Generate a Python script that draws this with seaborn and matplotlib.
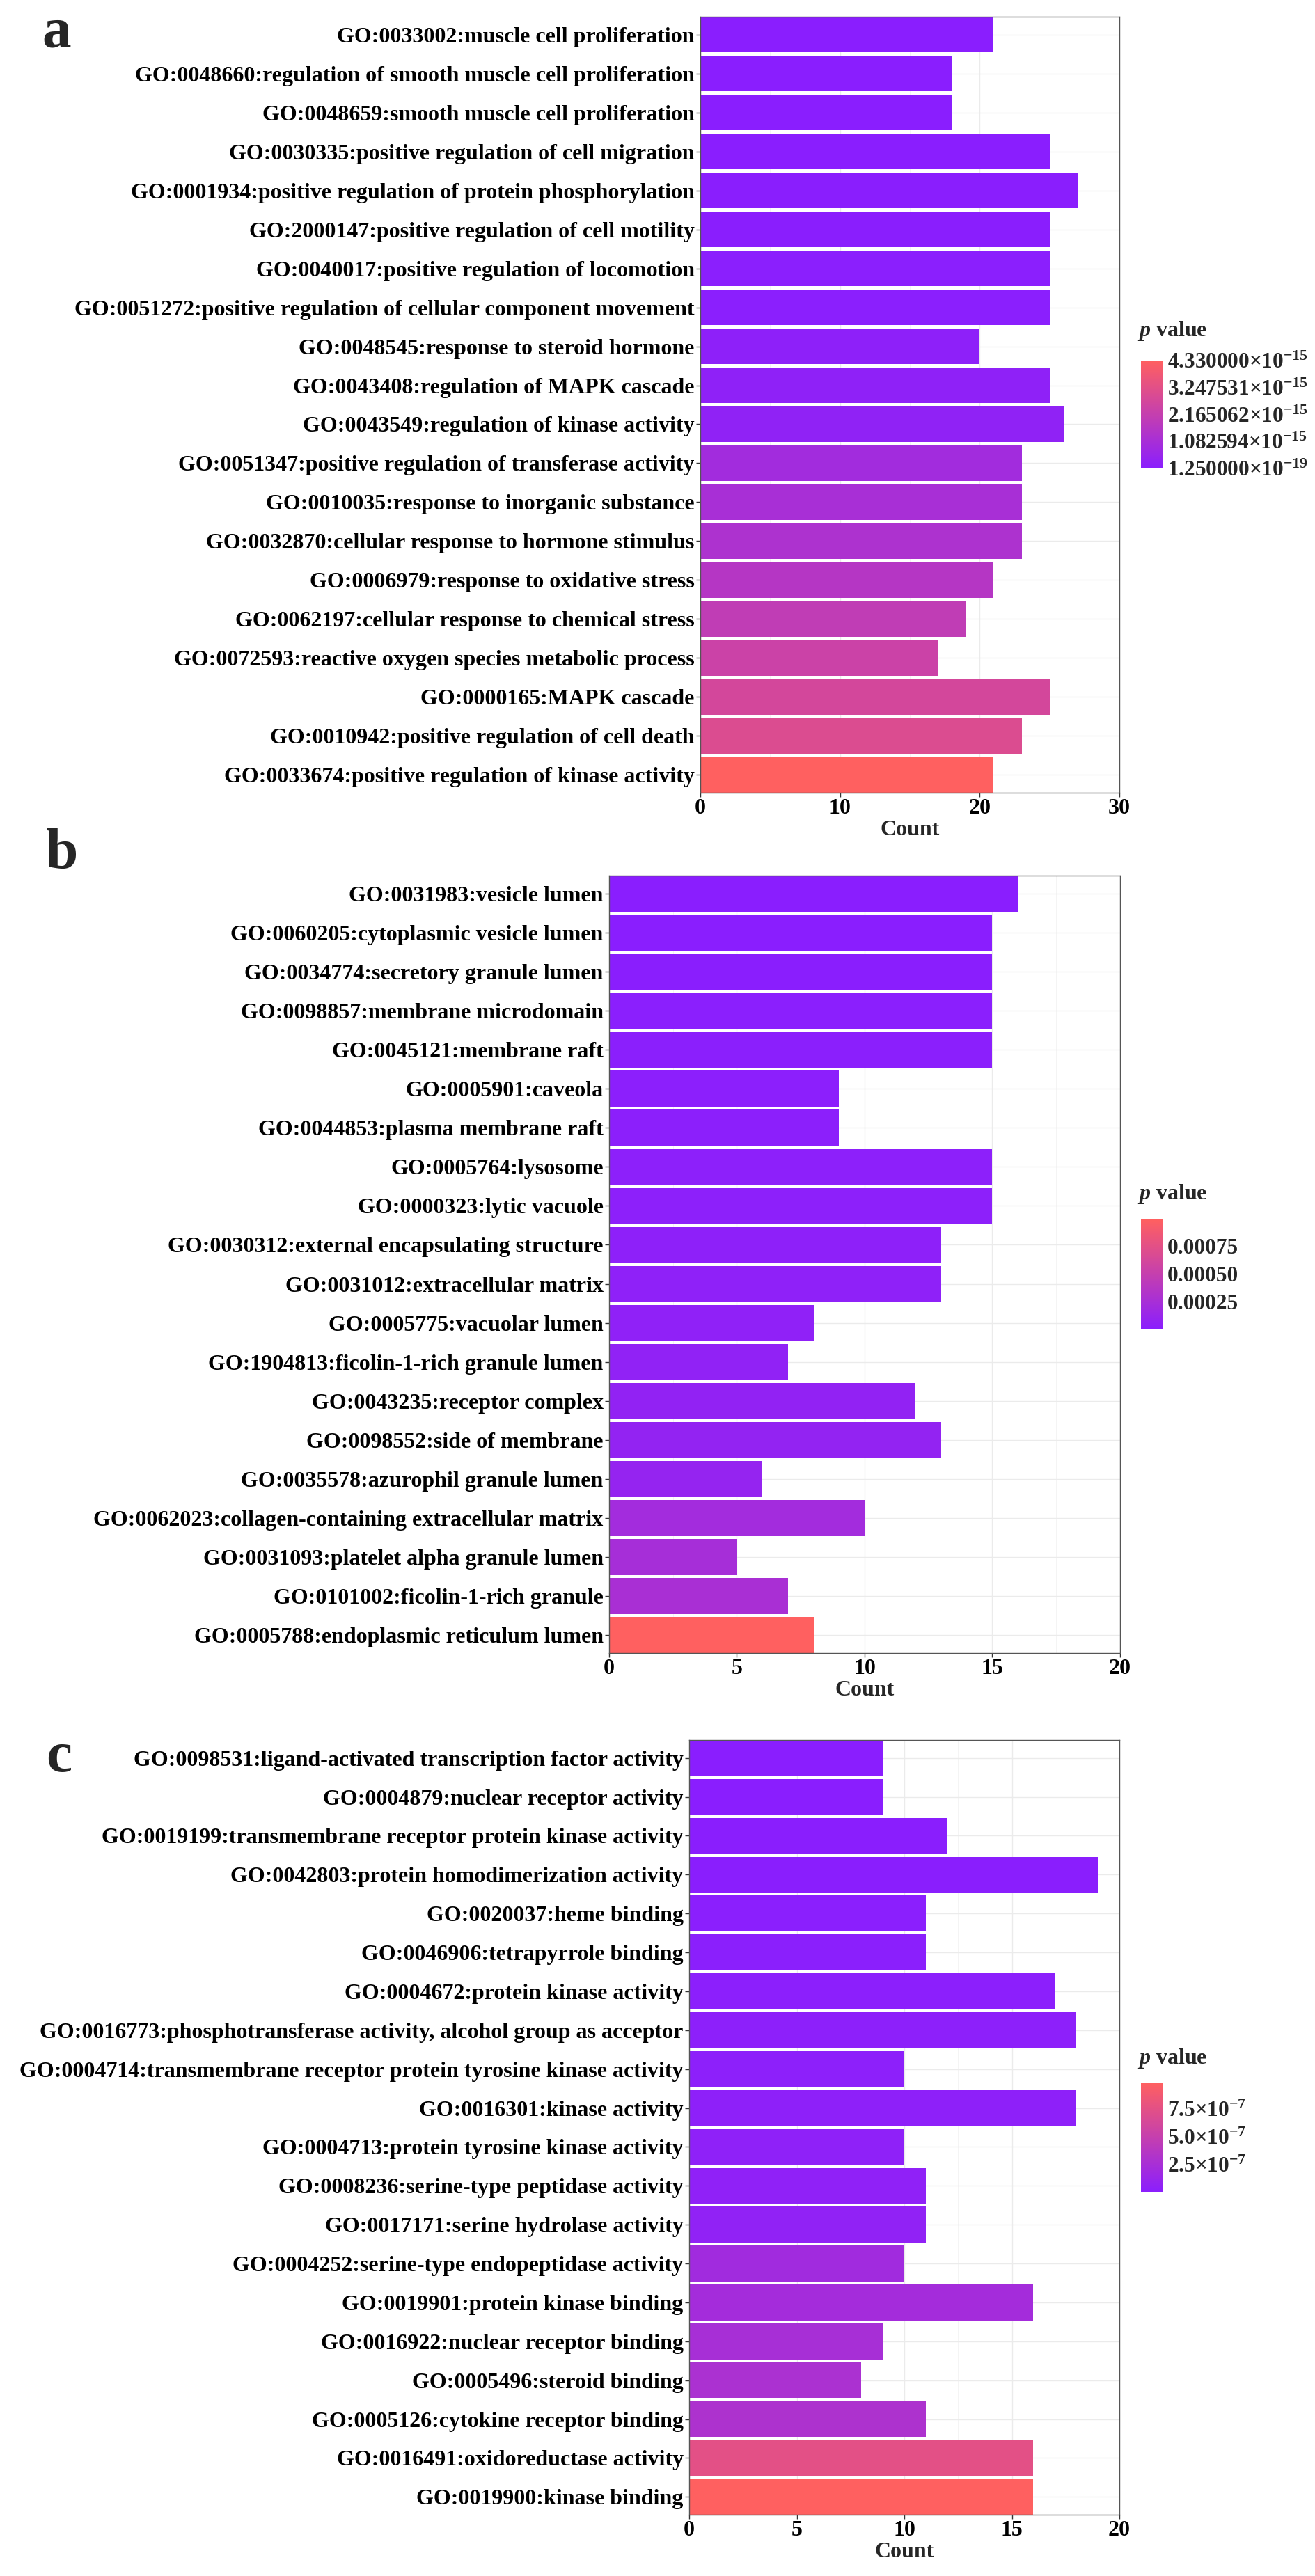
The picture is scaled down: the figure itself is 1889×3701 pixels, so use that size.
import numpy as np
import pandas as pd
import matplotlib
matplotlib.use("Agg")
import matplotlib.pyplot as plt
import seaborn as sns
from matplotlib.colors import LinearSegmentedColormap, Normalize
from matplotlib.cm import ScalarMappable
from matplotlib.ticker import MultipleLocator

# ---------------- data ----------------
terms_a = [
    "GO:0033002:muscle cell proliferation",
    "GO:0048660:regulation of smooth muscle cell proliferation",
    "GO:0048659:smooth muscle cell proliferation",
    "GO:0030335:positive regulation of cell migration",
    "GO:0001934:positive regulation of protein phosphorylation",
    "GO:2000147:positive regulation of cell motility",
    "GO:0040017:positive regulation of locomotion",
    "GO:0051272:positive regulation of cellular component movement",
    "GO:0048545:response to steroid hormone",
    "GO:0043408:regulation of MAPK cascade",
    "GO:0043549:regulation of kinase activity",
    "GO:0051347:positive regulation of transferase activity",
    "GO:0010035:response to inorganic substance",
    "GO:0032870:cellular response to hormone stimulus",
    "GO:0006979:response to oxidative stress",
    "GO:0062197:cellular response to chemical stress",
    "GO:0072593:reactive oxygen species metabolic process",
    "GO:0000165:MAPK cascade",
    "GO:0010942:positive regulation of cell death",
    "GO:0033674:positive regulation of kinase activity",
]
count_a = [21, 18, 18, 25, 27, 25, 25, 25, 20, 25, 26, 23, 23, 23, 21, 19, 17, 25, 23, 21]
p_a = [1.25e-19, 5e-18, 8e-18, 1.5e-17, 2e-17, 3e-17, 4e-17, 5e-17, 1.5e-16, 2.0e-16,
       2.5e-16, 9.0e-16, 1.1e-15, 1.3e-15, 1.6e-15, 2.0e-15, 2.4e-15, 2.7e-15, 3.0e-15, 4.33e-15]

terms_b = [
    "GO:0031983:vesicle lumen",
    "GO:0060205:cytoplasmic vesicle lumen",
    "GO:0034774:secretory granule lumen",
    "GO:0098857:membrane microdomain",
    "GO:0045121:membrane raft",
    "GO:0005901:caveola",
    "GO:0044853:plasma membrane raft",
    "GO:0005764:lysosome",
    "GO:0000323:lytic vacuole",
    "GO:0030312:external encapsulating structure",
    "GO:0031012:extracellular matrix",
    "GO:0005775:vacuolar lumen",
    "GO:1904813:ficolin-1-rich granule lumen",
    "GO:0043235:receptor complex",
    "GO:0098552:side of membrane",
    "GO:0035578:azurophil granule lumen",
    "GO:0062023:collagen-containing extracellular matrix",
    "GO:0031093:platelet alpha granule lumen",
    "GO:0101002:ficolin-1-rich granule",
    "GO:0005788:endoplasmic reticulum lumen",
]
count_b = [16, 15, 15, 15, 15, 9, 9, 15, 15, 13, 13, 8, 7, 12, 13, 6, 10, 5, 7, 8]
p_b = [1.0e-6, 4e-6, 7e-6, 1.0e-5, 1.3e-5, 1.8e-5, 2.2e-5, 2.6e-5, 3.0e-5, 3.5e-5,
       4.0e-5, 5.0e-5, 6.0e-5, 7.0e-5, 8.0e-5, 9.0e-5, 2.1e-4, 2.4e-4, 2.6e-4, 9.9e-4]

terms_c = [
    "GO:0098531:ligand-activated transcription factor activity",
    "GO:0004879:nuclear receptor activity",
    "GO:0019199:transmembrane receptor protein kinase activity",
    "GO:0042803:protein homodimerization activity",
    "GO:0020037:heme binding",
    "GO:0046906:tetrapyrrole binding",
    "GO:0004672:protein kinase activity",
    "GO:0016773:phosphotransferase activity, alcohol group as acceptor",
    "GO:0004714:transmembrane receptor protein tyrosine kinase activity",
    "GO:0016301:kinase activity",
    "GO:0004713:protein tyrosine kinase activity",
    "GO:0008236:serine-type peptidase activity",
    "GO:0017171:serine hydrolase activity",
    "GO:0004252:serine-type endopeptidase activity",
    "GO:0019901:protein kinase binding",
    "GO:0016922:nuclear receptor binding",
    "GO:0005496:steroid binding",
    "GO:0005126:cytokine receptor binding",
    "GO:0016491:oxidoreductase activity",
    "GO:0019900:kinase binding",
]
count_c = [9, 9, 12, 19, 11, 11, 17, 18, 10, 18, 10, 11, 11, 10, 16, 9, 8, 11, 16, 16]
p_c = [1e-9, 3e-9, 5e-9, 8e-9, 1e-8, 1.5e-8, 2e-8, 2.5e-8, 3e-8, 3.5e-8,
       4e-8, 5e-8, 6e-8, 2.0e-7, 2.2e-7, 2.5e-7, 2.8e-7, 3.0e-7, 7.5e-7, 9.9e-7]

cbar_ticks_a = [4.33e-15, 3.247531e-15, 2.165062e-15, 1.082594e-15, 1.25e-19]
cbar_labels_a = [r"4.330000×10$^{\mathregular{-15}}$", r"3.247531×10$^{\mathregular{-15}}$",
                 r"2.165062×10$^{\mathregular{-15}}$", r"1.082594×10$^{\mathregular{-15}}$",
                 r"1.250000×10$^{\mathregular{-19}}$"]
cbar_ticks_b = [0.00075, 0.00050, 0.00025]
cbar_labels_b = ["0.00075", "0.00050", "0.00025"]
cbar_ticks_c = [7.5e-7, 5.0e-7, 2.5e-7]
cbar_labels_c = [r"7.5×10$^{\mathregular{-7}}$", r"5.0×10$^{\mathregular{-7}}$",
                 r"2.5×10$^{\mathregular{-7}}$"]

# ---------------- style ----------------
sns.set_theme(style="white")
plt.rcParams["font.family"] = ["Liberation Serif", "DejaVu Serif"]
plt.rcParams["font.weight"] = "bold"
plt.rcParams["mathtext.fontset"] = "custom"
plt.rcParams["mathtext.rm"] = "Liberation Serif:bold"
plt.rcParams["mathtext.bf"] = "Liberation Serif:bold"
plt.rcParams["mathtext.it"] = "Liberation Serif:bold:italic"

LOW, HIGH = "#8A1EFE", "#FF6060"
cmap = LinearSegmentedColormap.from_list("pv", [LOW, HIGH])

W, H = 1890, 3701
fig = plt.figure(figsize=(W / 100, H / 100), dpi=100)
fig.patch.set_facecolor("white")


def rect(l, t, r, b):
    return [l / W, 1 - b / H, (r - l) / W, (b - t) / H]


FS = 23


def panel(terms, counts, pvals, box, xmax, step, minor, cbox, cticks, clabels, title_y, letter, letter_xy):
    ax = fig.add_axes(rect(*box))
    norm = Normalize(vmin=min(pvals), vmax=max(pvals))
    colors = [cmap(norm(p)) for p in pvals]
    df = pd.DataFrame({"term": terms, "count": counts, "p": pvals})
    sns.barplot(data=df, x="count", y="term", hue="term", palette=colors, legend=False,
                orient="h", width=0.92, saturation=1, linewidth=0, ax=ax)
    ax.set_xlim(0, xmax)
    ax.set_ylim(len(terms) - 1 + 0.46, -0.46)
    ax.set_xticks(np.arange(0, xmax + 1, step))
    ax.xaxis.set_minor_locator(MultipleLocator(minor))
    ax.set_axisbelow(True)
    ax.grid(False)
    ax.xaxis.grid(True, which="major", color="#EBEBEB", lw=1.0)
    ax.xaxis.grid(True, which="minor", color="#F4F4F4", lw=0.7)
    ax.yaxis.grid(True, which="major", color="#EBEBEB", lw=1.0)
    for s in ax.spines.values():
        s.set_visible(True)
        s.set_color("#555555")
        s.set_linewidth(1.0)
    ax.tick_params(axis="both", which="major", length=4, width=1, color="#333333",
                   labelsize=FS, pad=2, left=True, bottom=True, labelcolor="black")
    ax.tick_params(axis="both", which="minor", length=0)
    for lab in ax.get_yticklabels() + ax.get_xticklabels():
        lab.set_fontweight("bold")
    ax.set_xlabel("Count", fontsize=FS, fontweight="bold", labelpad=1)
    ax.set_ylabel("")

    cax = fig.add_axes(rect(*cbox))
    cb = fig.colorbar(ScalarMappable(norm=norm, cmap=cmap), cax=cax)
    cb.outline.set_visible(False)
    cb.set_ticks(cticks)
    cb.set_ticklabels(clabels)
    cax.minorticks_off()
    cax.tick_params(which="major", direction="in", color="white", length=6, width=1.3,
                    left=True, right=True, labelleft=False, labelright=True,
                    labelsize=22.5, pad=5)
    for lab in cax.get_yticklabels():
        lab.set_fontweight("bold")
    fig.text(1634 / W, 1 - title_y / H, r"$\it{p}$ value", fontsize=FS, fontweight="bold",
             va="baseline", ha="left")
    fig.text(letter_xy[0] / W, 1 - letter_xy[1] / H, letter, fontsize=60, fontweight="bold",
             va="baseline", ha="left")
    return ax


panel(terms_a, count_a, p_a, (1006, 24, 1608, 1139), 30, 10, 5,
      (1639, 518, 1670, 673), cbar_ticks_a, cbar_labels_a, 483, "a", (60, 67))
panel(terms_b, count_b, p_b, (875, 1258, 1609, 2375), 20, 5, 2.5,
      (1639, 1752, 1670, 1910), cbar_ticks_b, cbar_labels_b, 1723, "b", (66, 1247))
panel(terms_c, count_c, p_c, (990, 2500, 1608, 3613), 20, 5, 2.5,
      (1639, 2992, 1670, 3150), cbar_ticks_c, cbar_labels_c, 2965, "c", (66, 2545))

fig.savefig("out.png", dpi=100, facecolor="white")
